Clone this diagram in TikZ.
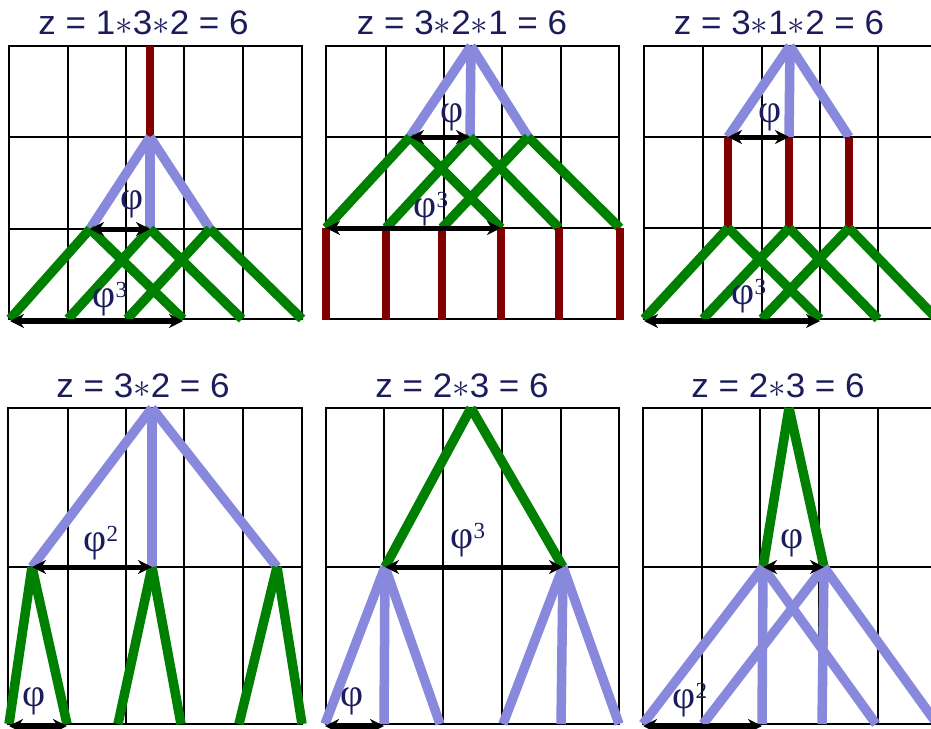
\RequirePackage{fix-cm}
\documentclass[tikz,border=0pt]{standalone}
\usepackage{graphicx}
\usepackage{fontspec}
\setmainfont{Liberation Sans}
\newfontfamily\phifont{Liberation Serif}
\usetikzlibrary{arrows.meta}
\definecolor{lav}{RGB}{136,136,221}
\definecolor{grn}{RGB}{0,128,0}
\definecolor{dred}{RGB}{128,0,0}
\definecolor{navy}{RGB}{28,28,92}
\tikzset{
  gridline/.style={black, line width=1.8pt, line cap=rect},
  lavline/.style={lav, line width=9.5pt},
  grnline/.style={grn, line width=9.5pt},
  redline/.style={dred, line width=8pt},
  dimarrow/.style={black, line width=5pt, {Stealth[length=14pt,width=14pt]}-{Stealth[length=14pt,width=14pt]}},
  ttl/.style={text=navy, inner sep=0pt, anchor=base, font=\fontsize{34}{40}\selectfont},
  philab/.style={text=navy, inner sep=0pt, anchor=center, font=\fontsize{40}{46}\selectfont\phifont},
}
\newcommand{\ttltext}[1]{\scalebox{1.03}[1]{#1}}
\newcommand{\phisup}[1]{φ\rlap{\smash{\raisebox{0.24em}{\fontsize{23}{23}\selectfont #1}}}}
\begin{document}
\begin{tikzpicture}[x=1pt,y=-1pt]
\path[use as bounding box] (0,0) rectangle (931,728);
\clip (0,0) rectangle (931,728);
% ---------- grids ----------
\foreach \x in {9,68,126,184,243,302} \draw[gridline] (\x,46) -- (\x,319);
\foreach \y in {46,137,229,319} \draw[gridline] (9,\y) -- (302,\y);
\foreach \x in {326,386,444,502,561,619} \draw[gridline] (\x,46) -- (\x,319);
\foreach \y in {46,137,228,319} \draw[gridline] (326,\y) -- (619,\y);
\foreach \x in {644,703,762,820,878,937} \draw[gridline] (\x,46) -- (\x,319);
\foreach \y in {46,137,228,319} \draw[gridline] (644,\y) -- (937,\y);
\foreach \x in {8,68,126,184,243,302} \draw[gridline] (\x,408) -- (\x,724);
\foreach \y in {408,567,724} \draw[gridline] (8,\y) -- (302,\y);
\foreach \x in {326,384,443,502,561,619} \draw[gridline] (\x,408) -- (\x,724);
\foreach \y in {408,567,724} \draw[gridline] (326,\y) -- (619,\y);
\foreach \x in {643,702,760,819,878,937} \draw[gridline] (\x,408) -- (\x,724);
\foreach \y in {408,567,724} \draw[gridline] (643,\y) -- (937,\y);
% ---------- titles ----------
\node[ttl] (t1) at (143.5,34.5) {\ttltext{z = 1$\ast$3$\ast$2 = 6}};
\node[ttl] (t2) at (462,34.5) {\ttltext{z = 3$\ast$2$\ast$1 = 6}};
\node[ttl] (t3) at (779,34.5) {\ttltext{z = 3$\ast$1$\ast$2 = 6}};
\node[ttl] (t4) at (143,397) {\ttltext{z = 3$\ast$2 = 6}};
\node[ttl] (t5) at (462,397) {\ttltext{z = 2$\ast$3 = 6}};
\node[ttl] (t6) at (778,397) {\ttltext{z = 2$\ast$3 = 6}};
% ---------- panel 1 ----------
\coordinate (a0) at (150,46);
\coordinate (a1) at (150,137);
\coordinate (a2) at (90,229);
\coordinate (a3) at (150,229);
\coordinate (a4) at (210,229);
\coordinate (a5) at (10,319);
\coordinate (a6) at (68,319);
\coordinate (a7) at (127,319);
\coordinate (a8) at (183,319);
\coordinate (a9) at (242,319);
\coordinate (a10) at (302,319);
\draw[redline] (a0) -- (a1);
\draw[lavline] (a1) -- (a2);
\draw[lavline] (a1) -- (a3);
\draw[lavline] (a1) -- (a4);
\draw[grnline] (a2) -- (a5);
\draw[grnline] (a2) -- (a8);
\draw[grnline] (a3) -- (a6);
\draw[grnline] (a3) -- (a9);
\draw[grnline] (a4) -- (a7);
\draw[grnline] (a4) -- (a10);
\draw[dimarrow] (a2) -- (a3);
\draw[dimarrow] ([yshift=-2pt]a5) -- ([yshift=-2pt]a8);
\node[philab] (p1a) at (132,204) {φ};
\node[philab] (p1b) at (104,302) {\phisup{3}};
% ---------- panel 2 ----------
\coordinate (b0) at (471,46);
\coordinate (b1) at (410,137);
\coordinate (b2) at (470,137);
\coordinate (b3) at (528,137);
\coordinate (b4) at (326,228);
\coordinate (b5) at (386,228);
\coordinate (b6) at (442,228);
\coordinate (b7) at (501,228);
\coordinate (b8) at (559,228);
\coordinate (b9) at (620,228);
\coordinate (bb) at (0,320);
\draw[lavline] (b0) -- (b1);
\draw[lavline] (b0) -- (b2);
\draw[lavline] (b0) -- (b3);
\draw[grnline] (b1) -- (b4);
\draw[grnline] (b1) -- (b7);
\draw[grnline] (b2) -- (b5);
\draw[grnline] (b2) -- (b8);
\draw[grnline] (b3) -- (b6);
\draw[grnline] (b3) -- (b9);
\foreach \n in {b4,b5,b6,b7,b8,b9} \draw[redline] (\n) -- (\n |- bb);
\draw[dimarrow] (b1) -- (b2);
\draw[dimarrow] (b4) -- (b7);
\node[philab] (p2a) at (452,117) {φ};
\node[philab] (p2b) at (425,212) {\phisup{3}};
% ---------- panel 3 ----------
\coordinate (c0) at (790,46);
\coordinate (c1) at (728,137);
\coordinate (c2) at (789,137);
\coordinate (c3) at (849,137);
\coordinate (c4) at (728,228);
\coordinate (c5) at (789,228);
\coordinate (c6) at (849,228);
\coordinate (c7) at (644,319);
\coordinate (c8) at (703,319);
\coordinate (c9) at (762,319);
\coordinate (c10) at (820,319);
\coordinate (c11) at (878,319);
\coordinate (c12) at (937,319);
\draw[lavline] (c0) -- (c1);
\draw[lavline] (c0) -- (c2);
\draw[lavline] (c0) -- (c3);
\draw[redline] (c1) -- (c4);
\draw[redline] (c2) -- (c5);
\draw[redline] (c3) -- (c6);
\draw[grnline] (c4) -- (c7);
\draw[grnline] (c4) -- (c10);
\draw[grnline] (c5) -- (c8);
\draw[grnline] (c5) -- (c11);
\draw[grnline] (c6) -- (c9);
\draw[grnline] (c6) -- (c12);
\draw[dimarrow] (c1) -- (c2);
\draw[dimarrow] ([yshift=-2pt]c7) -- ([yshift=-2pt]c10);
\node[philab] (p3a) at (770,117) {φ};
\node[philab] (p3b) at (743,299) {\phisup{3}};
% ---------- panel 4 ----------
\coordinate (d0) at (152,408);
\coordinate (d1) at (32,567);
\coordinate (d2) at (152,567);
\coordinate (d3) at (277,567);
\coordinate (d4) at (9,724);
\coordinate (d5) at (67,724);
\coordinate (d6) at (118,724);
\coordinate (d7) at (181,724);
\coordinate (d8) at (239,724);
\coordinate (d9) at (302,724);
\draw[lavline] (d0) -- (d1);
\draw[lavline] (d0) -- (d2);
\draw[lavline] (d0) -- (d3);
\draw[grnline] (d1) -- (d4);
\draw[grnline] (d1) -- (d5);
\draw[grnline] (d2) -- (d6);
\draw[grnline] (d2) -- (d7);
\draw[grnline] (d3) -- (d8);
\draw[grnline] (d3) -- (d9);
\draw[dimarrow] (d1) -- (d2);
\draw[dimarrow] ([yshift=-2pt]d4) -- ([yshift=-2pt]d5);
\node[philab] (p4a) at (95,546) {\phisup{2}};
\node[philab] (p4b) at (34,701) {φ};
% ---------- panel 5 ----------
\coordinate (e0) at (471,408);
\coordinate (e1) at (385,567);
\coordinate (e2) at (563,567);
\coordinate (e3) at (325,724);
\coordinate (e4) at (384,724);
\coordinate (e5) at (440,724);
\coordinate (e6) at (503,724);
\coordinate (e7) at (561,724);
\coordinate (e8) at (619,724);
\draw[grnline] (e0) -- (e1);
\draw[grnline] (e0) -- (e2);
\draw[lavline] (e1) -- (e3);
\draw[lavline] (e1) -- (e4);
\draw[lavline] (e1) -- (e5);
\draw[lavline] (e2) -- (e6);
\draw[lavline] (e2) -- (e7);
\draw[lavline] (e2) -- (e8);
\draw[dimarrow] (e1) -- (e2);
\draw[dimarrow] ([yshift=-2pt]e3) -- ([yshift=-2pt]e4);
\node[philab] (p5a) at (462,543) {\phisup{3}};
\node[philab] (p5b) at (352,701) {φ};
% ---------- panel 6 ----------
\coordinate (f0) at (789,408);
\coordinate (f1) at (763,567);
\coordinate (f2) at (824,567);
\coordinate (f3) at (643,724);
\coordinate (f4) at (703,724);
\coordinate (f5) at (762,724);
\coordinate (f6) at (822,724);
\coordinate (f7) at (876,724);
\coordinate (f8) at (937,724);
\draw[grnline] (f0) -- (f1);
\draw[grnline] (f0) -- (f2);
\draw[lavline] (f1) -- (f3);
\draw[lavline] (f1) -- (f5);
\draw[lavline] (f1) -- (f7);
\draw[lavline] (f2) -- (f4);
\draw[lavline] (f2) -- (f6);
\draw[lavline] (f2) -- (f8);
\draw[dimarrow] (f1) -- (f2);
\draw[dimarrow] ([yshift=-2pt]f3) -- ([yshift=-2pt]f5);
\node[philab] (p6a) at (792,543) {φ};
\node[philab] (p6b) at (684,703) {\phisup{2}};
\end{tikzpicture}
\end{document}
